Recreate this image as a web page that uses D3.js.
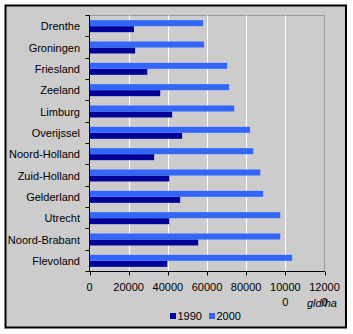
<!DOCTYPE html>
<html><head><meta charset="utf-8">
<script src="https://cdn.jsdelivr.net/npm/d3@7"></script>
<style>body{margin:0;background:#fff}svg{display:block}text{font-family:"Liberation Sans",Arial,sans-serif;font-size:11px;fill:#000}</style>
</head><body><svg id="c" width="353" height="334"></svg>
<script>
const categories = ["Drenthe","Groningen","Friesland","Zeeland","Limburg","Overijssel","Noord-Holland","Zuid-Holland","Gelderland","Utrecht","Noord-Brabant","Flevoland"];
const values1990 = [22700,23300,29500,36100,42200,47300,33000,40700,46300,40700,55500,39700];
const values2000 = [58000,58500,70300,71300,73900,82000,83600,87200,88700,97400,97400,103500];
const seriesNames = ["1990","2000"];
const tickValues = [0,20000,40000,60000,80000,100000,120000];
const tickLabels = ["0","20000","40000","60000","80000","100000","120000"];
const unitLabel = "gld/ha";
const colors = {"1990":"#000099","2000":"#3366FF"};

const svg = d3.select("#c");
svg.append("rect").attr("x",5.5).attr("y",5.5).attr("width",340.5).attr("height",322).attr("fill","#CCCCCC").attr("stroke","#000").attr("stroke-width",2);

const L=89.5, R=324.5, T=15.5, B=271.5;
const x = d3.scaleLinear().domain([0,120000]).range([L,R]);
const y = d3.scaleBand().domain(categories).range([T,B]).padding(0);
const sub = d3.scaleBand().domain(["2000","1990"]).range([0,y.bandwidth()]).paddingInner(0).paddingOuter(0.778);

// plot border (gray)
svg.append("path").attr("d",`M${L},${T}H${R}V${B}`).attr("fill","none").attr("stroke","#999999").attr("stroke-width",1);
// gridlines
svg.append("g").selectAll("line").data(tickValues.slice(1,-1)).join("line")
  .attr("x1",d=>Math.round(x(d))+0.5).attr("x2",d=>Math.round(x(d))+0.5).attr("y1",T).attr("y2",B)
  .attr("stroke","#fff").attr("stroke-width",1);

const rows = categories.map((c,i)=>({c, "1990":values1990[i], "2000":values2000[i]}));
const g = svg.append("g");
seriesNames.forEach(s=>{
  g.selectAll(null).data(rows).join("rect")
    .attr("x",L).attr("y",d=>y(d.c)+sub(s)).attr("height",sub.bandwidth())
    .attr("width",d=>x(d[s])-L).attr("fill",colors[s]);
});

// left axis
const yAxisG = svg.append("g");
yAxisG.append("line").attr("x1",L).attr("x2",L).attr("y1",T).attr("y2",B).attr("stroke","#000");
const bounds = categories.map(c=>y(c)).concat([B]);
yAxisG.selectAll(".t").data(bounds).join("line").attr("x1",L-4).attr("x2",L).attr("y1",d=>Math.round(d-0.5)+0.5).attr("y2",d=>Math.round(d-0.5)+0.5).attr("stroke","#000");
yAxisG.selectAll("text").data(categories).join("text")
  .attr("x",80).attr("y",c=>y(c)+y.bandwidth()/2+4).attr("text-anchor","end").text(c=>c);

// bottom axis
const xAxisG = svg.append("g");
xAxisG.append("line").attr("x1",L).attr("x2",R).attr("y1",B).attr("y2",B).attr("stroke","#000");
xAxisG.selectAll(".t").data(tickValues).join("line").attr("x1",d=>Math.round(x(d))+0.5).attr("x2",d=>Math.round(x(d))+0.5).attr("y1",B).attr("y2",B+4).attr("stroke","#000");
tickValues.forEach((v,i)=>{
  const lab = tickLabels[i];
  const t = xAxisG.append("text").attr("x",x(v)).attr("y",290.5).attr("text-anchor","middle");
  if(lab.length>5){
    t.text(lab.slice(0,5));
    xAxisG.append("text").attr("x",x(v)).attr("y",306).attr("text-anchor","middle").text(lab.slice(5));
  } else t.text(lab);
});
svg.append("text").attr("x",307).attr("y",306.5).attr("font-style","italic").text(unitLabel);

// legend
const leg = svg.append("g");
const legX = [170,209];
seriesNames.forEach((s,i)=>{
  leg.append("rect").attr("x",legX[i]).attr("y",313).attr("width",6).attr("height",6).attr("fill",colors[s]);
  leg.append("text").attr("x",legX[i]+7.5).attr("y",320).text(s);
});
</script></body></html>
